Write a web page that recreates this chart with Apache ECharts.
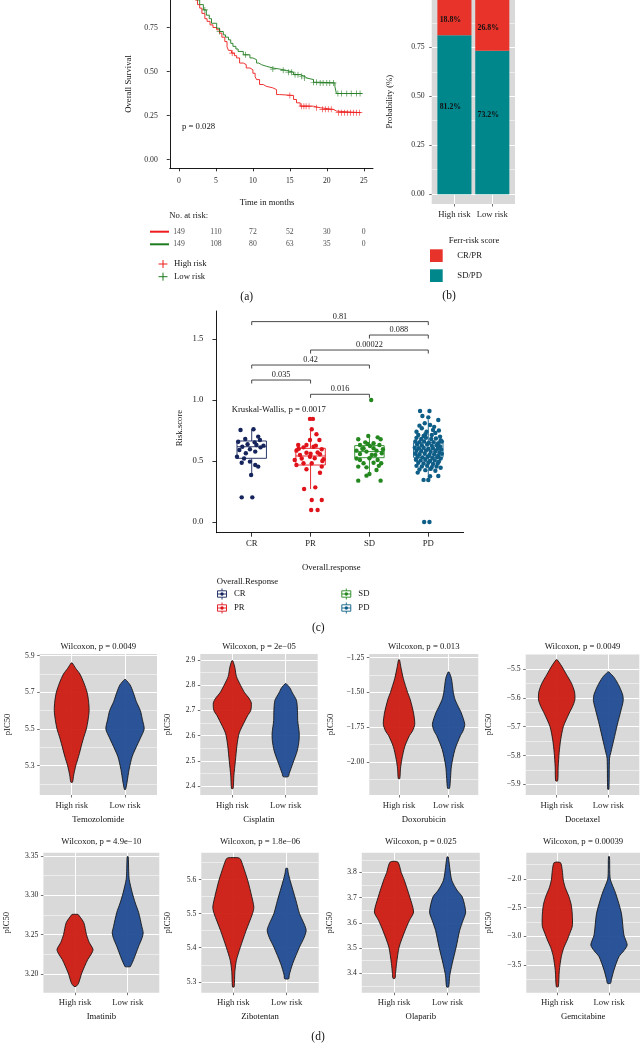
<!DOCTYPE html>
<html><head><meta charset="utf-8">
<script src="https://cdn.jsdelivr.net/npm/echarts@6/dist/echarts.min.js"></script>
<style>html,body{margin:0;padding:0;background:#fff}#c{width:640px;height:1043px}</style>
</head><body><div id="c"></div>
<script>
// ================= DATA =================
// (a) Kaplan-Meier
const kmTickTimes = [0, 5, 10, 15, 20, 25];
const survTicks = [0, 0.25, 0.5, 0.75, 1];
const highRiskTime = [0,0.5,0.8,1.1,1.4,1.7,2.0,2.2,2.5,2.8,3.1,3.5,3.8,4.2,4.6,5.1,5.5,5.8,6.2,6.5,6.7,7.1,7.5,7.8,8.2,8.7,9.1,9.6,10,10.3,10.5,10.9,11.4,11.8,12.7,13.2,13.6,15.5,15.9,16.4,18.2,19.1,20.9,21.3,24.6];
const highRiskSurv = [1,0.993,0.98,0.966,0.953,0.94,0.92,0.906,0.88,0.86,0.83,0.8,0.785,0.765,0.75,0.737,0.718,0.695,0.67,0.64,0.62,0.605,0.59,0.577,0.548,0.539,0.52,0.51,0.49,0.47,0.454,0.426,0.416,0.407,0.397,0.369,0.364,0.341,0.322,0.303,0.294,0.285,0.275,0.266,0.266];
const lowRiskTime = [0,0.6,1.0,1.4,1.8,2.1,2.4,2.8,3.3,3.7,4.1,4.4,5.1,5.5,6.0,6.3,6.7,7.0,7.3,7.7,8.0,8.7,9.6,10.0,10.5,10.8,11.2,11.8,12.7,13.6,14.5,15.5,16.4,17.0,17.3,18.2,19.1,21.1,21.3,24.8];
const lowRiskSurv = [1,0.993,0.98,0.966,0.953,0.933,0.906,0.88,0.85,0.82,0.8,0.774,0.746,0.727,0.708,0.695,0.68,0.66,0.643,0.628,0.614,0.595,0.577,0.567,0.548,0.538,0.53,0.52,0.514,0.507,0.496,0.482,0.473,0.463,0.454,0.439,0.435,0.413,0.375,0.375];
const highRiskCensor = [7.2,15.0,16.6,16.9,17.2,17.6,18.6,19.4,19.8,20.2,20.6,21.6,22.0,22.4,22.8,23.2,23.6,24.0,24.4];
const lowRiskCensor = [3.5,5.5,9.0,12.7,14.1,14.8,15.2,15.7,16.1,16.6,17.0,18.2,18.6,19.1,19.5,20.0,20.4,20.9,21.5,22.0,22.7,23.3,24.0,24.5];
const highRiskAtRisk = [149,110,72,52,30,0];
const lowRiskAtRisk = [149,108,80,63,35,0];

// (b) response proportions
const riskGroups = ['High risk','Low risk'];
const sdpdShare = [0.812, 0.732];
const crprShare = [0.188, 0.268];
const probTicks = [0, 0.25, 0.5, 0.75, 1];
const probMinor = [0.125, 0.375, 0.625, 0.875];

// (c) risk score by response
const responseCats = ['CR','PR','SD','PD'];
const riskTicks = [0, 0.5, 1, 1.5];
// [lower whisker, Q1, median, Q3, upper whisker]
const boxCR = [0.39,0.522,0.617,0.664,0.76];
const boxPR = [0.27,0.467,0.541,0.604,0.76];
const boxSD = [0.39,0.527,0.577,0.626,0.705];
const boxPD = [0.35,0.53,0.596,0.65,0.84];
// jitter points: [offset from category, risk score]
const jitterCR = [[-0.19,0.754],[0.03,0.76],[0.11,0.70],[-0.11,0.68],[-0.23,0.658],[0.05,0.653],[-0.07,0.637],[0.08,0.631],[0.2,0.626],[-0.16,0.617],[0.15,0.612],[-0.21,0.59],[-0.03,0.596],[-0.1,0.563],[0.06,0.577],[-0.25,0.535],[-0.17,0.486],[-0.03,0.495],[0.06,0.467],[0.11,0.454],[-0.01,0.385],[-0.17,0.202],[0.01,0.202],[0.14,0.672],[-0.13,0.52]];
const jitterPR = [[-0.01,0.845],[0.04,0.845],[0.02,0.76],[0.1,0.719],[-0.01,0.672],[0.15,0.672],[-0.21,0.631],[-0.07,0.631],[0.09,0.626],[-0.12,0.612],[0.05,0.617],[0.19,0.596],[-0.24,0.585],[-0.07,0.568],[-0.18,0.549],[-0.01,0.535],[0.16,0.555],[-0.27,0.508],[0.07,0.522],[0.22,0.514],[-0.12,0.481],[0.02,0.481],[0.19,0.454],[-0.24,0.467],[-0.07,0.432],[0.16,0.404],[-0.11,0.27],[0.08,0.284],[0.02,0.18],[0.19,0.18],[0.01,0.098],[0.12,0.098],[-0.2,0.6],[0.12,0.57],[-0.15,0.52],[0.0,0.56],[0.2,0.5]];
const jitterSD = [[0.03,1.0],[-0.02,0.705],[0.14,0.694],[-0.19,0.678],[0.19,0.678],[-0.07,0.653],[0.07,0.645],[-0.16,0.631],[0.01,0.623],[0.17,0.631],[-0.1,0.604],[0.07,0.604],[0.23,0.596],[-0.22,0.585],[-0.05,0.577],[0.12,0.585],[-0.16,0.557],[0.04,0.549],[0.21,0.563],[0.0,0.522],[-0.16,0.508],[0.14,0.508],[-0.1,0.481],[0.07,0.486],[0.2,0.481],[-0.05,0.448],[-0.19,0.454],[0.12,0.426],[0.0,0.393],[-0.05,0.38],[-0.19,0.339],[0.19,0.339],[0.1,0.55],[-0.12,0.6],[0.16,0.46],[-0.03,0.64],[-0.22,0.52]];
const jitterPD = [[-0.14,0.91],[0.02,0.91],[-0.1,0.869],[0,0.858],[0.17,0.836],[-0.06,0.809],[0.03,0.795],[-0.11,0.768],[0.08,0.754],[-0.03,0.74],[-0.17,0.713],[-0.08,0.705],[0.06,0.713],[0.2,0.7],
[-0.2,0.74],[0.12,0.73],[-0.05,0.72],[0.18,0.75],[0.1,0.78],[-0.15,0.79],
[-0.2,0.69],[-0.12,0.68],[-0.04,0.69],[0.05,0.68],[0.13,0.685],[0.21,0.67],
[-0.22,0.66],[-0.15,0.655],[-0.07,0.66],[0.01,0.65],[0.09,0.655],[0.17,0.645],[0.23,0.66],
[-0.19,0.635],[-0.11,0.63],[-0.02,0.635],[0.06,0.625],[0.14,0.63],[0.2,0.62],
[-0.23,0.61],[-0.16,0.605],[-0.08,0.61],[0.0,0.6],[0.08,0.605],[0.16,0.6],[0.22,0.595],
[-0.2,0.585],[-0.12,0.58],[-0.04,0.585],[0.04,0.575],[0.12,0.58],[0.19,0.57],
[-0.22,0.56],[-0.15,0.555],[-0.06,0.56],[0.02,0.55],[0.1,0.555],[0.17,0.545],[0.23,0.56],
[-0.18,0.535],[-0.1,0.53],[-0.01,0.535],[0.07,0.525],[0.15,0.53],[0.21,0.52],
[-0.21,0.51],[-0.13,0.505],[-0.05,0.51],[0.03,0.5],[0.11,0.505],[0.18,0.495],
[-0.17,0.485],[-0.08,0.48],[0.0,0.485],[0.08,0.475],[0.16,0.48],
[-0.2,0.46],[-0.11,0.455],[-0.02,0.46],[0.06,0.45],[0.14,0.455],[0.21,0.445],
[-0.15,0.43],[-0.05,0.425],[0.04,0.435],[0.12,0.42],
[-0.18,0.405],[0.03,0.375],[-0.08,0.345],[0.0,0.344],[0.17,0.377],[-0.07,0.0],[0.02,0.0]];
// pairwise comparisons: [group a, group b, bracket height]
const comparisons = [[1,2,1.164],[2,3,1.047],[1,3,1.287],[2,4,1.41],[3,4,1.533],[1,4,1.643]];
const comparisonP = ['0.035','0.016','0.42','0.00022','0.088','0.81'];

// (d) violin profiles: [pIC50, half-density]
const temozolomideHigh = [[5.86,0.5],[5.83,4],[5.80,8],[5.75,12],[5.70,15],[5.65,16.5],[5.60,17],[5.55,16],[5.50,14.3],[5.45,11.5],[5.42,10],[5.35,6.7],[5.30,4],[5.25,2],[5.21,0.8]];
const temozolomideLow = [[5.77,0.5],[5.74,5],[5.70,8],[5.65,11],[5.60,15],[5.55,17],[5.50,18.7],[5.45,15],[5.42,12.5],[5.35,7],[5.28,4],[5.21,2],[5.17,0.5]];
const cisplatinHigh = [[2.897,0.5],[2.87,2.5],[2.835,4],[2.80,8],[2.77,12],[2.75,16],[2.73,18.5],[2.70,18],[2.68,15],[2.66,12.5],[2.61,6.7],[2.56,4.5],[2.50,3],[2.44,1.5],[2.39,0.8]];
const cisplatinLow = [[2.806,0.5],[2.79,4],[2.77,6.5],[2.74,10.5],[2.70,11.5],[2.66,11.7],[2.61,13.2],[2.58,13],[2.54,11.3],[2.49,7],[2.45,3.5],[2.437,2.5]];
const doxorubicinHigh = [[-1.266,0.5],[-1.32,2],[-1.40,4.5],[-1.50,9],[-1.55,11.7],[-1.65,15.3],[-1.73,16.5],[-1.78,14],[-1.81,11],[-1.89,6],[-1.98,3],[-2.05,1.5],[-2.12,0.8]];
const doxorubicinLow = [[-1.354,0.5],[-1.40,3],[-1.50,5],[-1.55,6.7],[-1.60,10],[-1.647,13.3],[-1.73,17],[-1.78,15],[-1.81,12.5],[-1.91,6.7],[-2.03,3],[-2.12,2],[-2.19,1]];
const docetaxelHigh = [[-5.468,0.5],[-5.49,5],[-5.52,10],[-5.55,15],[-5.58,18],[-5.607,18.3],[-5.63,16],[-5.654,12.5],[-5.70,6.7],[-5.746,4],[-5.79,2.5],[-5.84,1.5],[-5.888,1]];
const docetaxelLow = [[-5.51,0.5],[-5.53,6],[-5.56,11],[-5.59,14.5],[-5.61,15],[-5.64,13],[-5.694,9],[-5.746,5.5],[-5.79,2.5],[-5.81,1.2],[-5.917,0.6]];
const imatinibHigh = [[3.2755,3],[3.274,4],[3.265,8.7],[3.25,11.3],[3.24,14],[3.231,17.8],[3.225,16],[3.218,12.5],[3.201,6.7],[3.188,3.5],[3.184,1]];
const imatinibLow = [[3.349,0.5],[3.33,1],[3.32,1.5],[3.303,4.5],[3.29,7.5],[3.278,10.8],[3.26,14],[3.252,15.3],[3.245,14],[3.235,10.8],[3.218,5.8],[3.21,3],[3.209,2.5]];
const zibotentanHigh = [[5.664,5],[5.66,7],[5.64,9.5],[5.598,14],[5.55,18],[5.519,20],[5.50,18.7],[5.451,12.5],[5.40,6.7],[5.363,3],[5.33,1.5],[5.285,0.8]];
const zibotentanLow = [[5.633,0.8],[5.62,1.5],[5.598,3.3],[5.539,9],[5.50,12.5],[5.47,17],[5.451,19],[5.43,17],[5.402,12.5],[5.353,5.8],[5.32,2.5],[5.309,2]];
const olaparibHigh = [[3.841,3.7],[3.80,7],[3.769,10],[3.702,15.3],[3.643,19],[3.61,15],[3.57,10.8],[3.504,5],[3.439,2.5],[3.40,1.5],[3.38,1]];
const olaparibLow = [[3.861,0.6],[3.82,2],[3.769,4],[3.73,9],[3.702,14.3],[3.643,17.5],[3.61,15],[3.57,11.7],[3.504,8.3],[3.439,4.5],[3.39,2],[3.346,1]];
const gemcitabineHigh = [[-1.715,3.2],[-1.85,5],[-2.017,6],[-2.15,8],[-2.308,11.7],[-2.45,14],[-2.598,15],[-2.75,15.3],[-2.832,15],[-2.95,12.5],[-3.063,10],[-3.2,6.5],[-3.355,4],[-3.6,2],[-3.878,1]];
const gemcitabineLow = [[-1.61,0.5],[-1.9,0.8],[-2.017,1.5],[-2.25,6.7],[-2.598,12.5],[-2.976,15],[-3.15,18.3],[-3.25,15],[-3.355,10],[-3.587,5],[-3.75,2.5],[-3.82,1.5]];
const drugNames = ['Temozolomide','Cisplatin','Doxorubicin','Docetaxel','Imatinib','Zibotentan','Olaparib','Gemcitabine'];
const wilcoxonP = ['0.0049','2e\u221205','0.013','0.0049','4.9e\u221210','1.8e\u221206','0.025','0.00039'];
const drugProfiles = [[temozolomideHigh,temozolomideLow],[cisplatinHigh,cisplatinLow],[doxorubicinHigh,doxorubicinLow],[docetaxelHigh,docetaxelLow],[imatinibHigh,imatinibLow],[zibotentanHigh,zibotentanLow],[olaparibHigh,olaparibLow],[gemcitabineHigh,gemcitabineLow]];
const drugMajorTicks = [[5.3,5.5,5.7,5.9],[2.4,2.5,2.6,2.7,2.8,2.9],[-2.0,-1.75,-1.5,-1.25],[-5.9,-5.8,-5.7,-5.6,-5.5],[3.20,3.25,3.30,3.35],[5.3,5.4,5.5,5.6],[3.4,3.5,3.6,3.7,3.8],[-3.5,-3.0,-2.5,-2.0]];
const drugMinorTicks = [[5.2,5.4,5.6,5.8],[2.45,2.55,2.65,2.75,2.85],[-2.125,-1.875,-1.625,-1.375],[-5.85,-5.75,-5.65,-5.55,-5.45],[3.225,3.275,3.325],[5.35,5.45,5.55,5.65],[3.35,3.45,3.55,3.65,3.75,3.85],[-3.75,-3.25,-2.75,-2.25,-1.75]];
const drugTickDecimals = [1,1,2,1,2,1,1,1];

// ================= LAYOUT / STYLE =================
const FONT = '"Liberation Serif","DejaVu Serif",serif';
const GREY = '#D9D9D9';
const KM_RED = '#EE1C1C', KM_GREEN = '#1E7B1E';
const BAR_RED = '#E8332A', BAR_TEAL = '#00878C';
const CAT_COLORS = ['#15245C','#E0131B','#24881F','#0F5E87'];
const VIO_COLORS = ['#CD1B10','#1F4B93'];
const DENS_SCALE = 52;
const FS = 8.7, FS_TICK = 7.7;
const violinLayout = [
  {left:39.7, top:654, width:117.3, height:141, gap:27},
  {left:200.3, top:654, width:117.4, height:141, gap:28},
  {left:369.3, top:654, width:109, height:141, gap:34},
  {left:525.7, top:654, width:113.6, height:141, gap:32},
  {left:43.4, top:852.7, width:115.9, height:140, gap:32},
  {left:201.3, top:852.7, width:117.4, height:140, gap:29},
  {left:361.8, top:852.7, width:118, height:140, gap:28},
  {left:526.3, top:852.7, width:113.7, height:140, gap:33}
];
const violinRanges = [[5.140,5.909],[2.364,2.924],[-2.238,-1.224],[-5.937,-5.448],[3.176,3.354],[5.268,5.679],[3.323,3.878],[-3.983,-1.541]];

const grids=[], xAxes=[], yAxes=[], series=[], graphics=[];
function addGrid(g){ grids.push(Object.assign({outerBoundsMode:'none', containLabel:false}, g)); return grids.length-1; }
function addX(a){ xAxes.push(a); return xAxes.length-1; }
function addY(a){ yAxes.push(a); return yAxes.length-1; }
function fmt(v, dec){ return v.toFixed(dec).replace('-', '\u2212'); }
function txt(x, y, text, o){ o = o || {}; graphics.push({type:'text', x, y, rotation:o.rot||0, silent:true, z:10,
  style:{text, fill:o.color||'#141414', fontSize:o.size||FS, fontFamily:FONT, fontWeight:o.weight||'normal', align:o.align||'center', verticalAlign:'middle'}}); }
function gline(x1,y1,x2,y2,color,w){ graphics.push({type:'line', silent:true, z:10, shape:{x1,y1,x2,y2}, style:{stroke:color, lineWidth:w}}); }

// ---------- (a) KM ----------
const gKM = addGrid({left:169.75, top:-25.3, width:203.25, height:193.6});
const xKM = addX({type:'value', gridIndex:gKM, min:-1.25, max:26.25,
  axisLine:{show:true, onZero:false, lineStyle:{color:'#000', width:0.9}},
  axisTick:{show:true, customValues:kmTickTimes, length:3, lineStyle:{color:'#000', width:0.8}},
  axisLabel:{customValues:kmTickTimes, fontSize:FS_TICK, color:'#262626', fontFamily:FONT, margin:9},
  splitLine:{show:false}});
const yKM = addY({type:'value', gridIndex:gKM, min:-0.05, max:1.05,
  axisLine:{show:true, onZero:false, lineStyle:{color:'#000', width:0.9}},
  axisTick:{show:true, customValues:survTicks, length:3, lineStyle:{color:'#000', width:0.8}},
  axisLabel:{customValues:survTicks, formatter:v=>v.toFixed(2), fontSize:FS_TICK, color:'#262626', fontFamily:FONT, margin:12},
  splitLine:{show:false}});
function survAt(times, surv, t){ let s = surv[0]; for (let i=0;i<times.length;i++){ if (times[i] <= t) s = surv[i]; } return s; }
const PLUS = 'path://M4.4,0H5.6V4.4H10V5.6H5.6V10H4.4V5.6H0V4.4H4.4Z';
[[highRiskTime, highRiskSurv, highRiskCensor, KM_RED, 'High risk'], [lowRiskTime, lowRiskSurv, lowRiskCensor, KM_GREEN, 'Low risk']].forEach(([tm, sv, cen, col, nm]) => {
  series.push({type:'line', name:nm, xAxisIndex:xKM, yAxisIndex:yKM, step:'end', symbol:'none', silent:true, clip:true,
    data: tm.map((t,i)=>[t, sv[i]]), lineStyle:{color:col, width:0.9}});
  series.push({type:'scatter', xAxisIndex:xKM, yAxisIndex:yKM, symbol:PLUS, symbolSize:6, silent:true,
    data: cen.map(t=>[t, survAt(tm, sv, t)]), itemStyle:{color:col}});
});
// risk table
const gRT = addGrid({left:169.75, top:231.7, width:203.25, height:12.6});
const xRT = addX({type:'value', gridIndex:gRT, min:-1.25, max:26.25, show:false});
const yRT = addY({type:'value', gridIndex:gRT, min:0, max:1, show:false});
series.push({type:'scatter', xAxisIndex:xRT, yAxisIndex:yRT, symbolSize:1, silent:true, itemStyle:{color:'rgba(0,0,0,0)'},
  data: kmTickTimes.map((t,i)=>[t,1,highRiskAtRisk[i]]).concat(kmTickTimes.map((t,i)=>[t,0,lowRiskAtRisk[i]])),
  label:{show:true, position:'inside', formatter:p=>String(p.value[2]), fontSize:FS_TICK, color:'#1a1a1a', fontFamily:FONT}});
txt(129, 84, 'Overall Survival', {rot:Math.PI/2});
txt(182, 127, 'p = 0.028', {align:'left'});
txt(267, 203, 'Time in months');
txt(169.3, 215.7, 'No. at risk:', {align:'left'});
gline(150, 231.7, 169, 231.7, KM_RED, 2);
gline(150, 244.3, 169, 244.3, KM_GREEN, 2);
gline(158.5, 264, 167.5, 264, KM_RED, 1); gline(163, 260, 163, 268, KM_RED, 1);
gline(158.5, 276.7, 167.5, 276.7, KM_GREEN, 1); gline(163, 272.7, 163, 280.7, KM_GREEN, 1);
txt(174, 264, 'High risk', {align:'left'});
txt(174, 276.7, 'Low risk', {align:'left'});
txt(246.7, 296.7, '(a)', {size:11.5});

// ---------- ggplot-style axes ----------
function ggX(gi, labels, name, gap, fs){
  return {type:'value', gridIndex:gi, min:0.4, max:labels.length+0.6,
    axisLine:{show:false, onZero:false},
    axisTick:{show:true, customValues:labels.map((_,i)=>i+1), length:2.5, lineStyle:{color:'#333', width:0.7}},
    axisLabel:{customValues:labels.map((_,i)=>i+1), formatter:v=>labels[Math.round(v)-1], fontSize:fs||FS, color:'#262626', fontFamily:FONT, margin:6},
    splitLine:{show:true, lineStyle:{color:'#fff', width:1}},
    name, nameLocation:'middle', nameGap:gap, nameTextStyle:{fontSize:FS, color:'#111', fontFamily:FONT}};
}
function ggY(gi, min, max, ticks, dec, name, gap, fs, margin){
  return {type:'value', gridIndex:gi, min, max, position:'left',
    axisLine:{show:false, onZero:false},
    axisTick:{show:true, customValues:ticks, length:2.5, lineStyle:{color:'#333', width:0.7}},
    axisLabel:{customValues:ticks, formatter:v=>fmt(v,dec), fontSize:fs||FS_TICK, color:'#262626', fontFamily:FONT, margin:margin||5},
    splitLine:{show:true, lineStyle:{color:'#fff', width:1}},
    name, nameLocation:'middle', nameGap:gap, nameTextStyle:{fontSize:FS, color:'#111', fontFamily:FONT}};
}
function ggYMinor(gi, min, max, ticks){
  return {type:'value', gridIndex:gi, min, max, position:'left',
    axisLine:{show:false, onZero:false},
    axisTick:{show:false, customValues:ticks}, axisLabel:{show:false, customValues:ticks},
    splitLine:{show:true, lineStyle:{color:'#fff', width:0.5}}};
}

// ---------- (b) stacked bar ----------
const gBar = addGrid({left:431.7, top:-11.5, width:83.3, height:215.5, show:true, backgroundColor:GREY, borderWidth:0});
const xBar = addX(ggX(gBar, riskGroups, '', 20, FS));
const yBar = addY(ggY(gBar, -0.05, 1.05, probTicks, 2, '', 20, FS_TICK, 7));
addY(ggYMinor(gBar, -0.05, 1.05, probMinor));
series.push({type:'custom', xAxisIndex:xBar, yAxisIndex:yBar, silent:true, clip:true,
  data: riskGroups.map((g,i)=>[i+1, sdpdShare[i], crprShare[i]]),
  renderItem(params, api){
    const x = api.value(0), a = api.value(1), b = api.value(2);
    const w = api.size([0.9, 0])[0];
    const p0 = api.coord([x,0]), p1 = api.coord([x,a]), p2 = api.coord([x,a+b]);
    const pa = api.coord([x,a/2]), pb = api.coord([x,a+b/2]);
    const ls = {fill:'#111', fontSize:7.8, fontFamily:FONT, fontWeight:'bold', align:'center', verticalAlign:'middle'};
    return {type:'group', children:[
      {type:'rect', shape:{x:p0[0]-w/2, y:p1[1], width:w, height:p0[1]-p1[1]}, style:{fill:BAR_TEAL}},
      {type:'rect', shape:{x:p0[0]-w/2, y:p2[1], width:w, height:p1[1]-p2[1]}, style:{fill:BAR_RED}},
      {type:'text', x:pa[0]-4, y:pa[1]-8, style:Object.assign({text:(a*100).toFixed(1)+'%'}, ls)},
      {type:'text', x:pb[0]-4, y:pb[1]+3, style:Object.assign({text:(b*100).toFixed(1)+'%'}, ls)}
    ]};
  }});
txt(390, 101.7, 'Probability (%)', {rot:Math.PI/2});
txt(474, 240.7, 'Ferr-risk score');
graphics.push({type:'rect', silent:true, shape:{x:430, y:249.3, width:12.7, height:12.7}, style:{fill:BAR_RED}});
graphics.push({type:'rect', silent:true, shape:{x:430, y:269.3, width:12.7, height:12.7}, style:{fill:BAR_TEAL}});
txt(457.3, 256, 'CR/PR', {align:'left'});
txt(457.3, 276, 'SD/PD', {align:'left'});
txt(449, 296, '(b)', {size:11.5});

// ---------- (c) box + jitter ----------
const gBox = addGrid({left:216.4, top:311, width:247.2, height:221.7});
const xBox = addX({type:'value', gridIndex:gBox, min:0.4, max:4.6,
  axisLine:{show:true, onZero:false, lineStyle:{color:'#000', width:0.9}},
  axisTick:{show:true, customValues:[1,2,3,4], length:4, lineStyle:{color:'#000', width:0.8}},
  axisLabel:{customValues:[1,2,3,4], formatter:v=>responseCats[Math.round(v)-1], fontSize:FS, color:'#1a1a1a', fontFamily:FONT, margin:7},
  splitLine:{show:false}});
const yBox = addY({type:'value', gridIndex:gBox, min:-0.088, max:1.73,
  axisLine:{show:true, onZero:false, lineStyle:{color:'#000', width:0.9}},
  axisTick:{show:true, customValues:riskTicks, length:4, lineStyle:{color:'#000', width:0.8}},
  axisLabel:{customValues:riskTicks, formatter:v=>v.toFixed(1), fontSize:FS, color:'#1a1a1a', fontFamily:FONT, margin:13},
  splitLine:{show:false}});
const boxStats = [boxCR, boxPR, boxSD, boxPD];
series.push({type:'custom', xAxisIndex:xBox, yAxisIndex:yBox, silent:true,
  data: boxStats.map((s,i)=>[i+1].concat(s)),
  renderItem(params, api){
    const x = api.value(0);
    const lo = api.coord([x, api.value(1)]), q1 = api.coord([x, api.value(2)]), md = api.coord([x, api.value(3)]),
          q3 = api.coord([x, api.value(4)]), hi = api.coord([x, api.value(5)]);
    const w = api.size([0.5, 0])[0];
    const c = CAT_COLORS[params.dataIndex];
    const ls = {stroke:c, lineWidth:0.9, fill:null};
    return {type:'group', children:[
      {type:'line', shape:{x1:lo[0], y1:lo[1], x2:q1[0], y2:q1[1]}, style:ls},
      {type:'line', shape:{x1:q3[0], y1:q3[1], x2:hi[0], y2:hi[1]}, style:ls},
      {type:'rect', shape:{x:q1[0]-w/2, y:q3[1], width:w, height:q1[1]-q3[1]}, style:{stroke:c, lineWidth:0.9, fill:'#fff'}},
      {type:'line', shape:{x1:md[0]-w/2, y1:md[1], x2:md[0]+w/2, y2:md[1]}, style:ls}
    ]};
  }});
[jitterCR, jitterPR, jitterSD, jitterPD].forEach((pts, i) => {
  series.push({type:'scatter', xAxisIndex:xBox, yAxisIndex:yBox, symbolSize:4.4, silent:true,
    data: pts.map(([dx,y])=>[i+1+dx, y]), itemStyle:{color:CAT_COLORS[i], opacity:1}});
});
series.push({type:'custom', xAxisIndex:xBox, yAxisIndex:yBox, silent:true,
  data: comparisons,
  renderItem(params, api){
    const a = api.coord([api.value(0), api.value(2)]), b = api.coord([api.value(1), api.value(2)]);
    const t = 3.5;
    return {type:'group', children:[
      {type:'polyline', shape:{points:[[a[0],a[1]+t],[a[0],a[1]],[b[0],b[1]],[b[0],b[1]+t]]}, style:{stroke:'#333', lineWidth:0.9, fill:null}},
      {type:'text', x:(a[0]+b[0])/2, y:a[1]-5, style:{text:comparisonP[params.dataIndex], fill:'#1a1a1a', fontSize:8.3, fontFamily:FONT, align:'center', verticalAlign:'middle'}}
    ]};
  }});
txt(179.3, 428, 'Risk.score', {rot:Math.PI/2});
txt(231.7, 409.3, 'Kruskal-Wallis, p = 0.0017', {align:'left'});
txt(331.3, 567.3, 'Overall.response');
txt(216.7, 581.7, 'Overall.Response', {align:'left'});
[[222, 594, 0],[222, 608, 1],[346.3, 594, 2],[346.3, 608, 3]].forEach(([x,y,i]) => {
  const c = CAT_COLORS[i];
  gline(x, y-5.5, x, y+5.5, c, 0.9);
  graphics.push({type:'rect', silent:true, z:10, shape:{x:x-4.5, y:y-3.2, width:9, height:6.4}, style:{stroke:c, lineWidth:0.9, fill:'#fff'}});
  gline(x-4.5, y, x+4.5, y, c, 0.9);
  graphics.push({type:'circle', silent:true, z:11, shape:{cx:x, cy:y, r:1.7}, style:{fill:c}});
  txt(x+12, y, responseCats[i], {align:'left'});
});
txt(318.3, 628.3, '(c)', {size:11.5});

// ---------- (d) violins ----------
drugNames.forEach((drug, k) => {
  const L = violinLayout[k], R = violinRanges[k];
  const gi = addGrid({left:L.left, top:L.top, width:L.width, height:L.height, show:true, backgroundColor:GREY, borderWidth:0});
  const xi = addX(ggX(gi, riskGroups, drug, 20, FS));
  const yi = addY(ggY(gi, R[0], R[1], drugMajorTicks[k], drugTickDecimals[k], 'pIC50', L.gap, FS_TICK, 5));
  addY(ggYMinor(gi, R[0], R[1], drugMinorTicks[k]));
  const profiles = drugProfiles[k];
  series.push({type:'custom', xAxisIndex:xi, yAxisIndex:yi, silent:true, clip:true,
    data: [[1],[2]],
    renderItem(params, api){
      const cat = api.value(0);
      const prof = profiles[params.dataIndex];
      const unit = api.size([1, 0])[0];
      const right = prof.map(([v,w]) => { const p = api.coord([cat, v]); return [p[0] + w/DENS_SCALE*unit, p[1]]; });
      const left = prof.slice().reverse().map(([v,w]) => { const p = api.coord([cat, v]); return [p[0] - w/DENS_SCALE*unit, p[1]]; });
      return {type:'polygon', shape:{points:right.concat(left), smooth:0.25},
        style:{fill:VIO_COLORS[params.dataIndex], opacity:0.94, stroke:'#111', lineWidth:0.9}};
    }});
  const ty = L.top < 700 ? 646.7 : 841.7;
  txt(L.left + L.width/2, ty, 'Wilcoxon, p = ' + wilcoxonP[k]);
});
txt(318, 1036.7, '(d)', {size:11.5});

const chart = echarts.init(document.getElementById('c'), null, {renderer:'canvas', width:640, height:1043});
chart.setOption({
  animation:false,
  backgroundColor:'#fff',
  textStyle:{fontFamily:FONT},
  grid:grids, xAxis:xAxes, yAxis:yAxes, series,
  graphic:{elements:graphics}
});
</script>
</body></html>
